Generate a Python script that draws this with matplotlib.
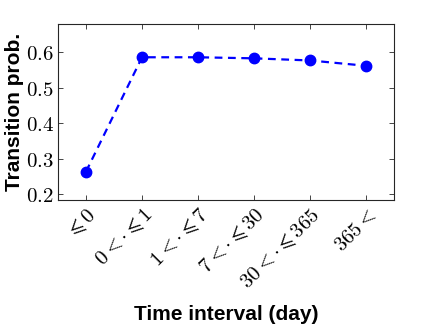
import matplotlib

matplotlib.use("Agg")
import matplotlib.pyplot as plt

plt.rcParams["mathtext.fontset"] = "cm"

interval_labels = [
    r"$\leqslant\mathbf{0}$",
    r"$\mathbf{0}<\cdot\leqslant\mathbf{1}$",
    r"$\mathbf{1}<\cdot\leqslant\mathbf{7}$",
    r"$\mathbf{7}<\cdot\leqslant\mathbf{30}$",
    r"$\mathbf{30}<\cdot\leqslant\mathbf{365}$",
    r"$\mathbf{365}<$",
]
transition_prob = [0.264, 0.586, 0.586, 0.583, 0.577, 0.562]
y_ticks = [0.2, 0.3, 0.4, 0.5, 0.6]
y_tick_labels = [r"$0.2$", r"$0.3$", r"$0.4$", r"$0.5$", r"$0.6$"]

axis_color = "#262626"

fig = plt.figure(figsize=(4.36, 3.27), dpi=100)
ax = fig.add_axes([0.133, 0.387, 0.771, 0.540])

x = list(range(1, len(transition_prob) + 1))
ax.plot(x, transition_prob, color="#0000ff", linestyle="--", linewidth=1.6,
        marker="o", markersize=7.5, dashes=(3.5, 2.5))

ax.set_xlim(0.5, len(x) + 0.5)
ax.set_ylim(0.183, 0.68)
ax.set_xticks(x)
ax.set_xticklabels(interval_labels, rotation=45, ha="right", va="top",
                   rotation_mode="anchor", fontsize=15)
ax.set_yticks(y_ticks)
ax.set_yticklabels(y_tick_labels, fontsize=15)

ax.tick_params(direction="in", top=True, right=True, length=3.5, width=0.6,
               color=axis_color, labelcolor="black")
ax.tick_params(axis="x", pad=3)
ax.tick_params(axis="y", pad=3)
for spine in ax.spines.values():
    spine.set_color(axis_color)
    spine.set_linewidth(0.8)

ax.set_xlabel("Time interval (day)", fontsize=15, fontweight="bold",
              family="Liberation Sans", va="center")
ax.set_ylabel("Transition prob.", fontsize=15, fontweight="bold",
              family="Liberation Sans", va="center")
ax.xaxis.set_label_coords(0.5, -0.648)
ax.yaxis.set_label_coords(-0.128, 0.5)

fig.savefig("out.png", dpi=100)
